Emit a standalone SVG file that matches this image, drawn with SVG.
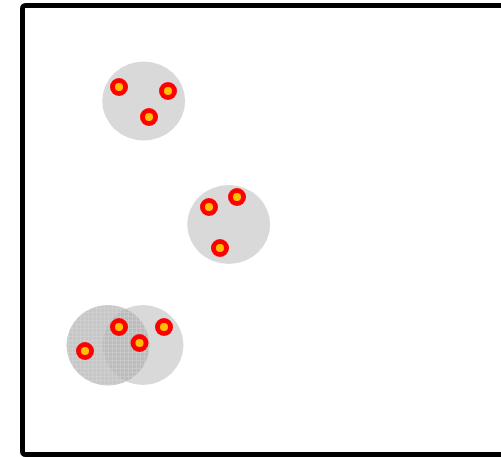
<svg xmlns="http://www.w3.org/2000/svg" width="501" height="457" viewBox="0 0 501 457">
  <style>
    .zone { fill: #d9d9d9; }
    .dot-outer { fill: #ff0000; }
    .dot-inner { fill: #ffc000; }
  </style>
  <defs>
    <pattern id="grid" width="4" height="4" patternUnits="userSpaceOnUse">
      <rect width="4" height="4" fill="#b0b0b0" fill-opacity="0.7"/>
      <rect x="0" y="0" width="4" height="1" fill="#dcdcdc" fill-opacity="0.35"/>
      <rect x="0" y="0" width="1" height="4" fill="#dcdcdc" fill-opacity="0.35"/>
    </pattern>
    <g id="dot">
      <circle r="9" class="dot-outer"/>
      <circle r="4" class="dot-inner"/>
    </g>
  </defs>
  <rect width="501" height="457" fill="#ffffff"/>
  <rect x="22.5" y="5.5" width="500" height="449" rx="3" fill="none" stroke="#000000" stroke-width="5"/>

  <g id="cluster1">
    <ellipse class="zone" cx="143.7" cy="101" rx="41.5" ry="39.5"/>
    <use href="#dot" x="119" y="87"/>
    <use href="#dot" x="168" y="91"/>
    <use href="#dot" x="149" y="117"/>
  </g>

  <g id="cluster2">
    <ellipse class="zone" cx="228.7" cy="224.5" rx="41.5" ry="39.5"/>
    <use href="#dot" x="209" y="207"/>
    <use href="#dot" x="237" y="197"/>
    <use href="#dot" x="220" y="248"/>
  </g>

  <g id="cluster3">
    <ellipse class="zone" cx="143" cy="345" rx="40.5" ry="40"/>
    <ellipse fill="url(#grid)" cx="108" cy="345.3" rx="41.5" ry="40.3"/>
    <use href="#dot" x="119" y="327"/>
    <use href="#dot" x="139.5" y="343"/>
    <use href="#dot" x="164" y="327"/>
    <use href="#dot" x="85" y="351"/>
  </g>
</svg>
